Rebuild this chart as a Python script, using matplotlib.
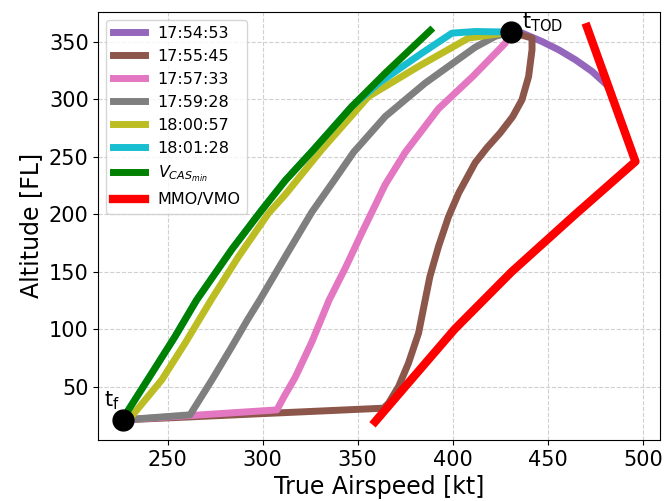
import numpy as np
import matplotlib.pyplot as plt

# trajectory end points
tf_point = (226.7, 21.0)
tod_point = (430.5, 358.7)

# descent trajectories [kt], [FL]
tas_175453 = [430.5, 436.6, 446.9, 455.7, 464.5, 473.3, 480.0]
alt_175453 = [358.7, 357.8, 350.5, 343.3, 334.6, 324.4, 314.3]

tas_175545 = [226.7, 363.6, 366.2, 371.5, 376.7, 382.0, 385.5, 388.0, 392.5, 397.8,
              403.1, 411.8, 418.0, 425.0, 431.5, 436.4, 439.9, 441.7, 441.7, 430.5]
alt_175545 = [21.0, 31.2, 35.5, 50.0, 70.4, 96.5, 125.5, 146.0, 172.0, 198.1,
              218.5, 245.0, 258.0, 271.0, 285.0, 299.7, 320.0, 343.3, 353.5, 358.7]

tas_175733 = [226.7, 307.5, 311.5, 317.1, 325.9, 335.0, 343.4, 352.2, 364.5, 375.0,
              392.5, 410.5, 427.6, 430.5]
alt_175733 = [21.0, 29.7, 42.0, 58.0, 89.0, 125.5, 153.0, 184.0, 226.0, 254.0,
              292.0, 320.0, 349.0, 358.7]

tas_175928 = [226.7, 261.8, 273.3, 283.8, 292.0, 298.5, 313.0, 325.9, 338.2, 347.8,
              364.5, 385.5, 411.8, 422.4, 430.5]
alt_175928 = [21.0, 25.4, 55.8, 84.8, 108.1, 125.5, 166.2, 202.0, 231.0, 254.0,
              285.2, 314.3, 345.5, 355.0, 358.7]

tas_180057 = [229.5, 246.9, 259.2, 272.9, 287.3, 303.1, 311.8, 331.0, 355.7, 382.0,
              408.3, 430.5]
alt_180057 = [21.0, 55.8, 87.8, 125.5, 163.2, 201.0, 217.0, 256.2, 302.6, 328.8,
              353.5, 358.7]

tas_180128 = [226.7, 229.4, 241.7, 253.9, 265.3, 284.0, 299.6, 311.8, 326.7, 346.9,
              361.0, 383.8, 399.6, 411.8, 430.5]
alt_180128 = [21.0, 29.7, 61.7, 93.6, 125.5, 170.0, 203.9, 229.3, 256.2, 293.9,
              314.3, 340.4, 357.8, 359.2, 358.7]

# speed envelope
tas_vcas_min = [226.7, 229.4, 241.7, 253.9, 265.3, 284.0, 299.6, 311.8, 326.7, 346.9,
                364.5, 388.2]
alt_vcas_min = [21.0, 29.7, 61.7, 93.6, 125.5, 170.0, 203.9, 229.3, 256.2, 293.9,
                323.0, 360.1]

tas_mmo = [359.2, 375.0, 401.0, 431.0, 464.5, 496.1, 470.6]
alt_mmo = [19.5, 50.0, 100.0, 150.0, 200.0, 246.0, 363.1]

series = [
    (tas_175453, alt_175453, '#9467bd', '17:54:53'),
    (tas_175545, alt_175545, '#8c564b', '17:55:45'),
    (tas_175733, alt_175733, '#e377c2', '17:57:33'),
    (tas_175928, alt_175928, '#7f7f7f', '17:59:28'),
    (tas_180057, alt_180057, '#bcbd22', '18:00:57'),
    (tas_180128, alt_180128, '#17becf', '18:01:28'),
]

fig, ax = plt.subplots(figsize=(6.65, 5.01), dpi=100)
fig.subplots_adjust(left=0.148, right=0.993, bottom=0.122, top=0.977)

for tas, alt, col, lab in series:
    ax.plot(tas, alt, color=col, lw=5, label=lab, solid_joinstyle='round')
ax.plot(tas_vcas_min, alt_vcas_min, color='green', lw=5, label=r'$V_{CAS_{min}}$',
        solid_joinstyle='round')
ax.plot(tas_mmo, alt_mmo, color='red', lw=6, label='MMO/VMO')

ax.plot(*tf_point, 'o', color='black', ms=15, zorder=10)
ax.plot(*tod_point, 'o', color='black', ms=15, zorder=10)
ax.text(216.5, 28, r't$_\mathregular{f}$', fontsize=15, va='bottom')
ax.text(436.5, 357, r't$_\mathregular{TOD}$', fontsize=15, va='bottom')

ax.set_xlim(213.6, 509.2)
ax.set_ylim(3.6, 376.6)
ax.set_xticks([250, 300, 350, 400, 450, 500])
ax.set_yticks([50, 100, 150, 200, 250, 300, 350])
ax.tick_params(labelsize=15)
ax.set_xlabel('True Airspeed [kt]', fontsize=17)
ax.set_ylabel('Altitude [FL]', fontsize=17)
ax.grid(True, linestyle='--', color='#d0d0d0', lw=0.8)
ax.legend(loc='upper left', fontsize=11.5)

fig.savefig('out.png', dpi=100)
